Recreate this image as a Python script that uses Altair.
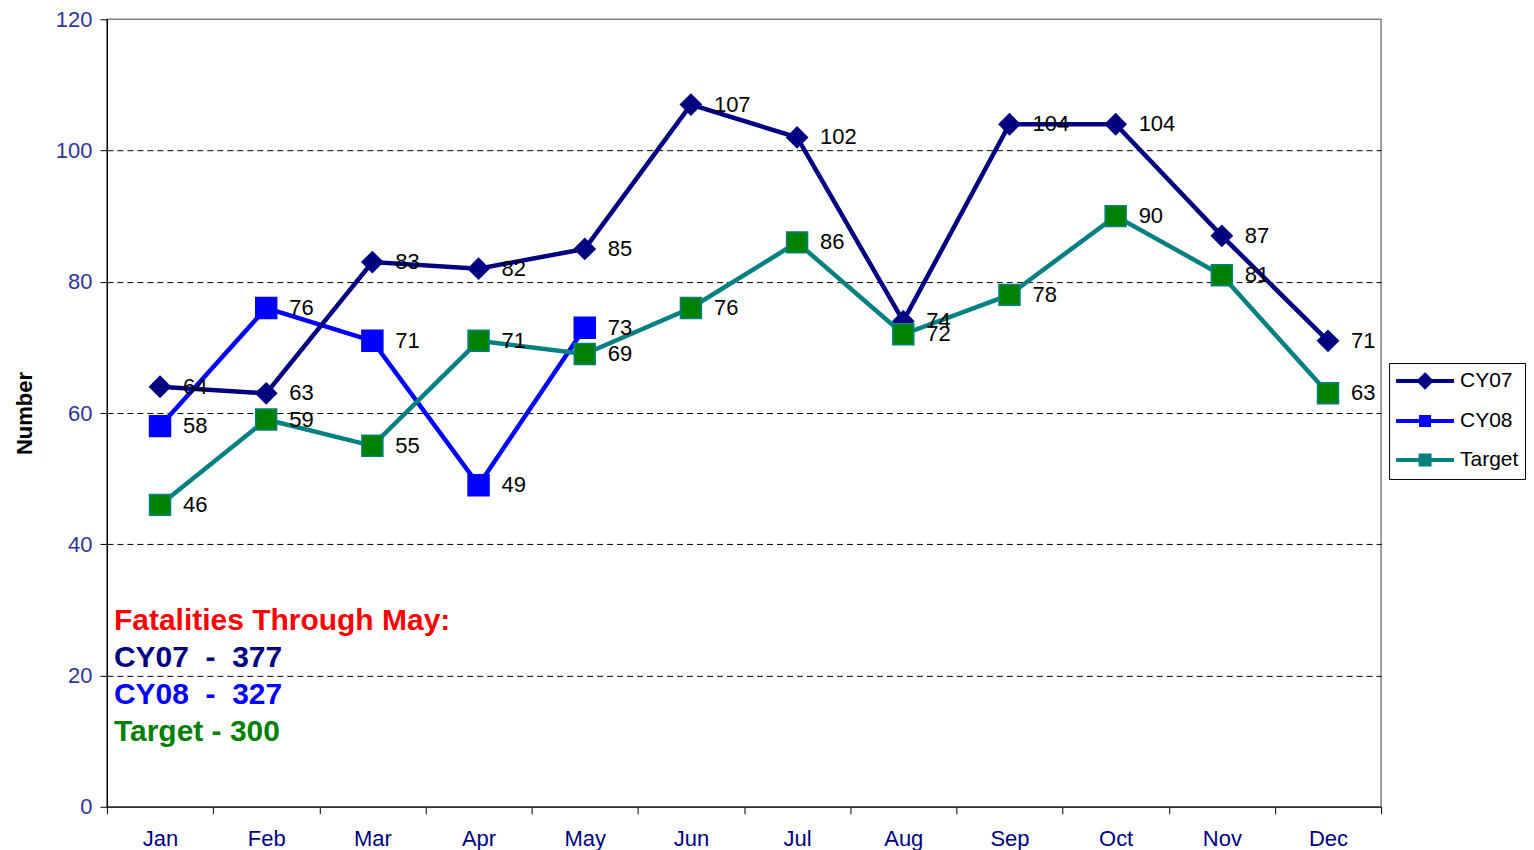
import altair as alt
import pandas as pd

months = ["Jan", "Feb", "Mar", "Apr", "May", "Jun", "Jul", "Aug", "Sep", "Oct", "Nov", "Dec"]
cy07 = [64, 63, 83, 82, 85, 107, 102, 74, 104, 104, 87, 71]
cy08 = [58, 76, 71, 49, 73]
target = [46, 59, 55, 71, 69, 76, 86, 72, 78, 90, 81, 63]
series_names = ["CY07", "CY08", "Target"]
line_colors = ["#000080", "#0000FF", "#008080"]
marker_fills = ["#000080", "#0000FF", "#008000"]
y_ticks = [0, 20, 40, 60, 80, 100, 120]

summary_lines = [
    ("Fatalities Through May:", "#FF0000"),
    ("CY07\u00a0\u00a0-\u00a0\u00a0377", "#000080"),
    ("CY08\u00a0\u00a0-\u00a0\u00a0327", "#0000FF"),
    ("Target - 300", "#008000"),
]

FONT = "Liberation Sans"

rows = []
for name, vals in zip(series_names, [cy07, cy08, target]):
    for m, v in zip(months, vals):
        rows.append({"month": m, "value": v, "series": name})
df = pd.DataFrame(rows)

x_enc = alt.X(
    "month:N",
    sort=months,
    scale=alt.Scale(type="band", paddingInner=0, paddingOuter=0),
    axis=alt.Axis(
        title=None, labelAngle=0, labelFontSize=22, labelFont=FONT,
        labelColor="#000080", tickBand="extent", tickSize=7, tickColor="black",
        tickWidth=1, domainColor="black", domainWidth=1.2, labelPadding=15, grid=False,
    ),
)
y_enc = alt.Y(
    "value:Q",
    scale=alt.Scale(domain=[0, 120], nice=False),
    axis=alt.Axis(
        title="Number", titleFont=FONT, titleFontSize=22, titleFontWeight="bold",
        titleColor="black", titlePadding=19,
        values=y_ticks, labelFontSize=22, labelFont=FONT, labelColor="#333399",
        labelPadding=8, tickSize=7, tickColor="black", domainColor="black",
        domainWidth=1.2,
        grid=True,
        gridColor={"condition": {"test": "datum.value === 120 || datum.value === 0", "value": "transparent"}, "value": "black"},
        gridDash=[6, 4], gridWidth=1,
    ),
)


def series_df(name):
    return df[df["series"] == name]


def line_layer(name, color):
    return alt.Chart(series_df(name)).mark_line(strokeWidth=4.5, color=color).encode(x=x_enc, y=y_enc)


def square_layer(name, fill, stroke):
    return alt.Chart(series_df(name)).mark_square(
        size=440, opacity=1, strokeWidth=1.5, fill=fill, stroke=stroke
    ).encode(x=x_enc, y=y_enc)


layers = [
    line_layer("CY08", line_colors[1]),
    square_layer("CY08", marker_fills[1], line_colors[1]),
    line_layer("CY07", line_colors[0]),
    alt.Chart(series_df("CY07")).mark_point(
        shape="diamond", filled=True, size=520, opacity=1, color=marker_fills[0]
    ).encode(x=x_enc, y=y_enc),
    line_layer("Target", line_colors[2]),
    square_layer("Target", marker_fills[2], line_colors[2]),
]

labels = alt.Chart(df).mark_text(
    align="left", baseline="middle", dx=23, fontSize=22, font=FONT, color="black"
).encode(x=x_enc, y=y_enc, text="value:Q")
layers.append(labels)

for i, (txt, col) in enumerate(summary_lines):
    layers.append(
        alt.Chart(series_df("CY07").head(1)).mark_text(
            align="left", baseline="middle", fontSize=30, fontWeight="bold", font=FONT, color=col
        ).encode(x=alt.value(7), y=alt.value(602 + 37 * i), text=alt.value(txt))
    )

legend_paths = [
    "M-2.9,0L2.9,0M0,-0.6L0.6,0L0,0.6L-0.6,0Z",
    "M-2.9,0L2.9,0M-0.4,-0.4L0.4,-0.4L0.4,0.4L-0.4,0.4Z",
    "M-2.9,0L2.9,0M-0.45,-0.45L0.45,-0.45L0.45,0.45L-0.45,0.45Z",
]
leg = alt.Legend(
    title=None, orient="none", legendX=1283, legendY=344,
    symbolSize=400, symbolStrokeWidth=4, symbolOffset=18, labelOffset=23,
    rowPadding=14, padding=6, strokeColor="black", fillColor="white",
    labelFontSize=21, labelFont=FONT, labelColor="black", symbolOpacity=1,
)
legend_layer = alt.Chart(df).transform_filter("false").mark_point(filled=True, opacity=1).encode(
    fill=alt.Fill("series:N", scale=alt.Scale(domain=series_names, range=marker_fills), legend=leg),
    stroke=alt.Stroke("series:N", scale=alt.Scale(domain=series_names, range=line_colors), legend=leg),
    shape=alt.Shape("series:N", scale=alt.Scale(domain=series_names, range=legend_paths), legend=leg),
)
layers.append(legend_layer)

chart = alt.layer(*layers).properties(
    width=1275, height=788,
    padding={"left": 5, "top": 0, "right": 0, "bottom": 0},
    background="white",
).configure_view(stroke="#808080", strokeWidth=1.5)

chart.save("out.html", embed_options={"renderer": "svg", "actions": False})
